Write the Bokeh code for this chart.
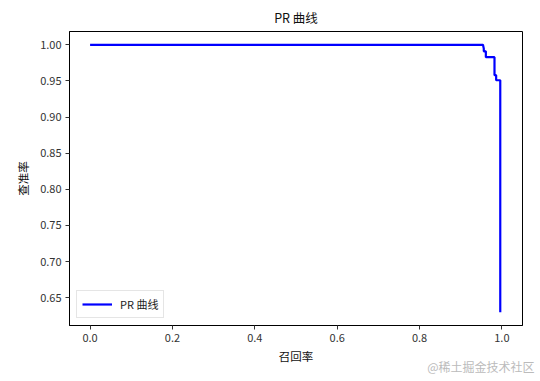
from bokeh.plotting import figure
from bokeh.models import Range1d, Title, FixedTicker, Legend, LegendItem, CustomJSTickFormatter
from bokeh.embed import file_html
from bokeh.resources import INLINE

# Precision-recall curve points
recall = [0.0, 0.954, 0.956, 0.956, 0.961, 0.961, 0.982, 0.982, 0.986, 0.986, 0.996, 0.996]
precision = [1.0, 1.0, 0.995, 0.991, 0.991, 0.983, 0.983, 0.958, 0.958, 0.951, 0.951, 0.63]

x_ticks = [0.0, 0.2, 0.4, 0.6, 0.8, 1.0]
y_ticks = [0.65, 0.70, 0.75, 0.80, 0.85, 0.90, 0.95, 1.00]

FONT = "Noto Sans CJK SC"

p = figure(width=540, height=381, output_backend="svg", toolbar_location=None,
           x_range=Range1d(-0.05, 1.05), y_range=Range1d(0.6115, 1.0185),
           min_border_left=69, min_border_right=18, min_border_top=31, min_border_bottom=56,
           title="PR 曲线")

p.title.align = "center"
p.title.text_font = FONT
p.title.text_font_size = "12.5px"
p.title.text_font_style = "normal"
p.title.text_color = "#111111"

p.outline_line_color = "black"
p.outline_line_width = 1
p.xgrid.visible = False
p.ygrid.visible = False
p.background_fill_color = "white"
p.border_fill_color = "white"

r = p.line(recall, precision, line_color="blue", line_width=2.2)

p.xaxis.ticker = FixedTicker(ticks=x_ticks)
p.yaxis.ticker = FixedTicker(ticks=y_ticks)
p.xaxis.formatter = CustomJSTickFormatter(code="return tick.toFixed(1)")
p.yaxis.formatter = CustomJSTickFormatter(code="return tick.toFixed(2)")

for ax in (p.xaxis[0], p.yaxis[0]):
    ax.major_label_text_font = FONT
    ax.major_label_text_font_size = "11px"
    ax.major_label_text_color = "#333333"
    ax.major_tick_out = 4
    ax.major_tick_in = 0
    ax.minor_tick_out = 0
    ax.minor_tick_in = 0
    ax.axis_line_color = "black"
    ax.major_tick_line_color = "#333333"
    ax.axis_label_text_font = FONT
    ax.axis_label_text_font_size = "11.5px"
    ax.axis_label_text_font_style = "normal"
    ax.axis_label_text_color = "#111111"
    ax.major_label_standoff = 4

p.xaxis.axis_label = "召回率"
p.yaxis.axis_label = "查准率"
p.xaxis.axis_label_standoff = 3
p.yaxis.axis_label_standoff = 6

legend = Legend(items=[LegendItem(label="PR 曲线", renderers=[r])],
                location="bottom_left", margin=7, padding=5,
                glyph_width=30, glyph_height=14, label_standoff=8,
                label_text_font=FONT, label_text_font_size="11px",
                label_text_color="#222222",
                border_line_color="#cccccc", border_line_width=1,
                background_fill_alpha=0.9)
p.add_layout(legend, "center")

# site watermark in the lower right corner, tucked beside the axis label
wm = Title(text="@稀土掘金技术社区", align="right", standoff=-18, offset=-12,
           vertical_align="top",
           text_font=FONT, text_font_size="12px", text_font_style="normal",
           text_color="#bbbbbb")
p.add_layout(wm, "below")

open("out.html", "w").write(file_html(p, INLINE))
